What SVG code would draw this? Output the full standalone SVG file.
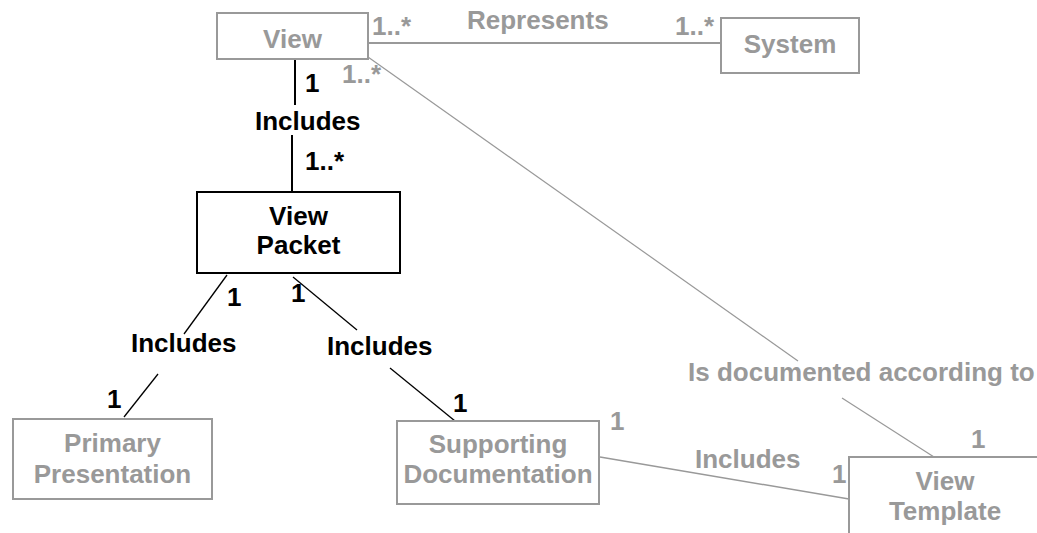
<svg xmlns="http://www.w3.org/2000/svg" width="1037" height="533" viewBox="0 0 1037 533">
<style>
text{font-family:"Liberation Sans",Arial,sans-serif;font-weight:bold;font-size:26px}
.g{fill:#999999}
.k{fill:#000000}
.m{text-anchor:middle}
.gbox{fill:#ffffff;stroke:#999999;stroke-width:2}
.kbox{fill:#ffffff;stroke:#000000;stroke-width:2}
.gl{stroke:#999999;fill:none}
.kl{stroke:#000000;fill:none}
</style>
<rect width="1037" height="533" fill="#ffffff"/>
<g id="connectors">
<line class="gl" stroke-width="2" x1="368" y1="43" x2="721" y2="43"/>
<line class="gl" stroke-width="1.2" x1="368" y1="57" x2="798" y2="361"/>
<line class="gl" stroke-width="1.2" x1="842" y1="398" x2="934" y2="457"/>
<line class="gl" stroke-width="1.5" x1="600" y1="457" x2="849" y2="499"/>
<line class="kl" stroke-width="2" x1="295" y1="59" x2="295" y2="105"/>
<line class="kl" stroke-width="2" x1="292" y1="135" x2="292" y2="192"/>
<line class="kl" stroke-width="1.3" x1="227" y1="275" x2="184" y2="334"/>
<line class="kl" stroke-width="1.3" x1="158" y1="374" x2="124" y2="417"/>
<line class="kl" stroke-width="1.3" x1="293" y1="277" x2="357" y2="330"/>
<line class="kl" stroke-width="1.3" x1="390" y1="368" x2="455" y2="421"/>
<text class="g" x="467" y="29">Represents</text>
<text class="g" x="372" y="35">1..*</text>
<text class="g" x="675" y="35">1..*</text>
<text class="g" x="342" y="83">1..*</text>
<text class="g" x="688" y="381">Is documented according to</text>
<text class="g" x="610" y="430">1</text>
<text class="g" x="695" y="468">Includes</text>
<text class="g" x="832" y="483">1</text>
<text class="g" x="971" y="448">1</text>
<text class="k" x="305" y="92">1</text>
<text class="k" x="255" y="130">Includes</text>
<text class="k" x="305" y="170">1..*</text>
<text class="k" x="227" y="306">1</text>
<text class="k" x="291" y="302">1</text>
<text class="k" x="131" y="352">Includes</text>
<text class="k" x="327" y="355">Includes</text>
<text class="k" x="107" y="408">1</text>
<text class="k" x="453" y="412">1</text>
</g>
<g id="view">
<rect class="gbox" x="217" y="13" width="151" height="46"/>
<text class="g m" x="292.5" y="48">View</text>
</g>
<g id="system">
<rect class="gbox" x="721" y="18" width="138" height="55"/>
<text class="g m" x="790" y="53">System</text>
</g>
<g id="view-packet">
<rect class="kbox" x="197" y="192" width="203" height="81"/>
<text class="k m" x="298.5" y="225">View</text>
<text class="k m" x="298.5" y="254">Packet</text>
</g>
<g id="primary-presentation">
<rect class="gbox" x="13" y="419" width="199" height="80"/>
<text class="g m" x="112.5" y="452">Primary</text>
<text class="g m" x="112.5" y="483">Presentation</text>
</g>
<g id="supporting-documentation">
<rect class="gbox" x="397" y="421" width="202" height="83"/>
<text class="g m" x="498" y="453">Supporting</text>
<text class="g m" x="498" y="483">Documentation</text>
</g>
<g id="view-template">
<rect class="gbox" x="849" y="457" width="250" height="100"/>
<text class="g m" x="945" y="490">View</text>
<text class="g m" x="945" y="520">Template</text>
</g>
</svg>
